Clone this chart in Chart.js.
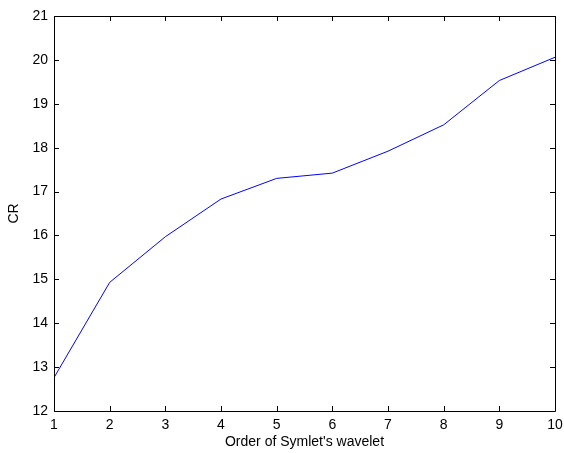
<!DOCTYPE html>
<html>
<head>
<meta charset="utf-8">
<script src="https://cdn.jsdelivr.net/npm/chart.js@4/dist/chart.umd.min.js"></script>
<style>
  body { margin: 0; background: #fff; }
  canvas { display: block; }
</style>
</head>
<body>
<canvas id="grafico" width="564" height="453"></canvas>
<script>
// order of the Symlet wavelet and the CR
const ordenes = [1, 2, 3, 4, 5, 6, 7, 8, 9, 10];
const valoresCR = [12.76, 14.93, 15.97, 16.83, 17.30, 17.42, 17.92, 18.52, 19.53, 20.06];
const ticksX = [1, 2, 3, 4, 5, 6, 7, 8, 9, 10];
const ticksY = [12, 13, 14, 15, 16, 17, 18, 19, 20, 21];

const fuente = { family: "Liberation Sans, Arial, sans-serif", size: 14 };

// matlab style box with the ticks pointing inside
const cajaMatlab = {
  id: "cajaMatlab",
  afterDraw(chart) {
    const { ctx, chartArea: a, scales } = chart;
    ctx.save();
    ctx.strokeStyle = "#000";
    ctx.lineWidth = 1;
    ctx.beginPath();
    ctx.rect(a.left + 0.5, a.top + 0.5, a.right - a.left, a.bottom - a.top);
    ticksX.forEach(v => {
      const x = Math.round(scales.x.getPixelForValue(v)) + 0.5;
      ctx.moveTo(x, a.bottom); ctx.lineTo(x, a.bottom - 5);
      ctx.moveTo(x, a.top); ctx.lineTo(x, a.top + 5);
    });
    ticksY.forEach(v => {
      const y = Math.round(scales.y.getPixelForValue(v)) + 0.5;
      ctx.moveTo(a.left, y); ctx.lineTo(a.left + 5, y);
      ctx.moveTo(a.right, y); ctx.lineTo(a.right - 5, y);
    });
    ctx.stroke();
    ctx.restore();
  }
};

new Chart(document.getElementById("grafico"), {
  type: "line",
  data: {
    labels: ordenes,
    datasets: [{
      data: ordenes.map((o, i) => ({ x: o, y: valoresCR[i] })),
      borderColor: "#0000ff",
      borderWidth: 1,
      pointRadius: 0,
      tension: 0,
    }],
  },
  options: {
    responsive: false,
    animation: false,
    layout: { padding: { left: 0, top: 16, right: 0, bottom: 0 } },
    plugins: { legend: { display: false }, tooltip: { enabled: false } },
    scales: {
      x: {
        type: "linear",
        min: 1,
        max: 10,
        afterFit(s) { s.height = 42; s.paddingRight = 9; },
        afterBuildTicks(s) { s.ticks = ticksX.map(v => ({ value: v })); },
        grid: { display: false, drawTicks: false },
        border: { display: false },
        ticks: { color: "#000", font: fuente, padding: 6, maxRotation: 0 },
        title: {
          display: true,
          text: "Order of Symlet's wavelet",
          color: "#000",
          font: fuente,
          padding: { top: 0, bottom: 2 },
        },
      },
      y: {
        min: 12,
        max: 21,
        afterFit(s) { s.width = 54; },
        afterBuildTicks(s) { s.ticks = ticksY.map(v => ({ value: v })); },
        grid: { display: false, drawTicks: false },
        border: { display: false },
        ticks: { color: "#000", font: fuente, padding: 6 },
        title: {
          display: true,
          text: "CR",
          color: "#000",
          font: fuente,
          padding: { top: 6, bottom: 0 },
        },
      },
    },
  },
  plugins: [cajaMatlab],
});
</script>
</body>
</html>
